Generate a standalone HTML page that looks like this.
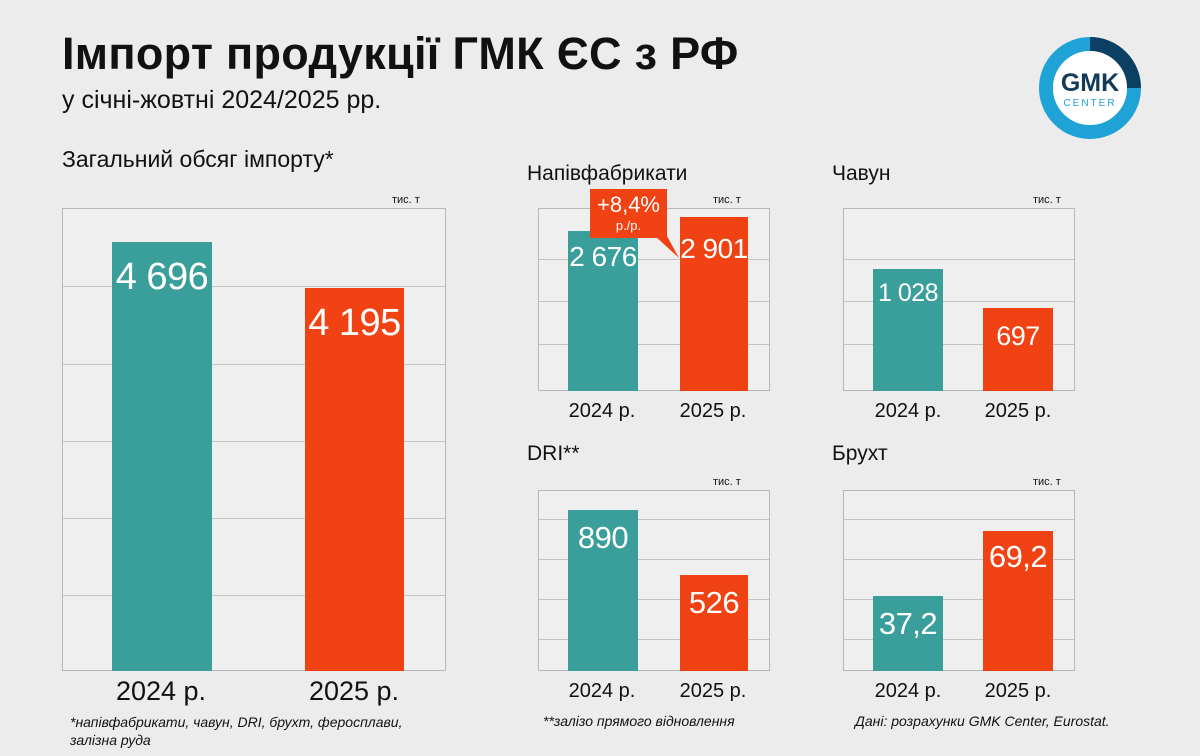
<!DOCTYPE html>
<html><head><meta charset="utf-8"><style>
body{margin:0;width:1200px;height:756px;overflow:hidden;background:#ececec;font-family:"Liberation Sans",sans-serif;color:#111;position:relative}
.a{position:absolute}
.fr{position:absolute;border:1.5px solid #b8b8b8;background:rgba(245,245,245,0.4);box-sizing:border-box}
.gl{position:absolute;left:0;right:0;height:1px;background:#c4c4c4}
.t{background:#3a9e9a}.o{background:#f04212}
.v{position:absolute;left:-10px;right:-10px;text-align:center;color:#fff;white-space:nowrap;letter-spacing:-0.5px}
.yr{position:absolute;font-size:21px;text-align:center;width:120px;white-space:nowrap}
.u{position:absolute;font-size:11px}
.h{position:absolute;font-size:21px;white-space:nowrap}
</style></head><body>
<div class="a" style="left:62px;top:28px;font-size:45px;font-weight:bold;letter-spacing:0.3px;white-space:nowrap">Імпорт продукції ГМК ЄС з РФ</div>
<div class="a" style="left:62px;top:86px;font-size:25px">у січні-жовтні 2024/2025 рр.</div>
<svg class="a" style="left:1036px;top:34px" width="108" height="108"><circle cx="54" cy="54" r="44" fill="none" stroke="#1fa3d6" stroke-width="14"/><path d="M54 10 A44 44 0 0 1 98 54" fill="none" stroke="#0b3f63" stroke-width="14"/><circle cx="54" cy="54" r="37" fill="#fff"/><text x="54" y="57" font-size="25" font-weight="bold" text-anchor="middle" fill="#123a5a" font-family="Liberation Sans">GMK</text><text x="54" y="72" font-size="10" text-anchor="middle" fill="#1fa3d6" letter-spacing="2" font-family="Liberation Sans">CENTER</text></svg>

<div class="h" style="left:62px;top:146px;font-size:23px">Загальний обсяг імпорту*</div>
<div class="u" style="left:392px;top:194px">тис. т</div>
<div class="fr" style="left:62px;top:208px;width:384px;height:463px">
<div class="gl" style="top:77px"></div><div class="gl" style="top:155px"></div><div class="gl" style="top:232px"></div><div class="gl" style="top:309px"></div><div class="gl" style="top:386px"></div>
<div class="a t" style="left:49px;top:33px;width:100px;height:429px"><div class="v" style="top:14px;font-size:38px">4 696</div></div>
<div class="a o" style="left:242px;top:79px;width:99px;height:383px"><div class="v" style="top:14px;font-size:38px">4 195</div></div>
</div>
<div class="yr" style="left:101px;top:676px;font-size:27px">2024 р.</div>
<div class="yr" style="left:294px;top:676px;font-size:27px">2025 р.</div>

<div class="h" style="left:527px;top:162px">Напівфабрикати</div>
<div class="u" style="left:713px;top:194px">тис. т</div>
<div class="fr" style="left:538px;top:208px;width:232px;height:183px">
<div class="gl" style="top:50px"></div><div class="gl" style="top:92px"></div><div class="gl" style="top:135px"></div>
<div class="a t" style="left:29px;top:22px;width:70px;height:160px"><div class="v" style="top:10px;font-size:28px">2 676</div></div>
<div class="a o" style="left:141px;top:8px;width:68px;height:174px"><div class="v" style="top:16px;font-size:28px">2 901</div></div>
</div>
<div class="a o" style="left:590px;top:189px;width:77px;height:49px;color:#fff;text-align:center"><div style="font-size:22px;margin-top:3px;white-space:nowrap">+8,4%</div><div style="font-size:13px">р./р.</div></div>
<svg class="a" style="left:655px;top:236px" width="30" height="30"><polygon points="0,0 12,0 24,22" fill="#f04212"/></svg>
<div class="yr" style="left:542px;top:400px;font-size:20px">2024 р.</div>
<div class="yr" style="left:653px;top:400px;font-size:20px">2025 р.</div>

<div class="h" style="left:832px;top:162px">Чавун</div>
<div class="u" style="left:1033px;top:194px">тис. т</div>
<div class="fr" style="left:843px;top:208px;width:232px;height:183px">
<div class="gl" style="top:50px"></div><div class="gl" style="top:92px"></div><div class="gl" style="top:135px"></div>
<div class="a t" style="left:29px;top:60px;width:70px;height:122px"><div class="v" style="top:10px;font-size:25px">1 028</div></div>
<div class="a o" style="left:139px;top:99px;width:70px;height:83px"><div class="v" style="top:13px;font-size:27px">697</div></div>
</div>
<div class="yr" style="left:848px;top:400px;font-size:20px">2024 р.</div>
<div class="yr" style="left:958px;top:400px;font-size:20px">2025 р.</div>

<div class="h" style="left:527px;top:442px">DRI**</div>
<div class="u" style="left:713px;top:476px">тис. т</div>
<div class="fr" style="left:538px;top:490px;width:232px;height:181px">
<div class="gl" style="top:28px"></div><div class="gl" style="top:68px"></div><div class="gl" style="top:108px"></div><div class="gl" style="top:148px"></div>
<div class="a t" style="left:29px;top:19px;width:70px;height:161px"><div class="v" style="top:10px;font-size:31px">890</div></div>
<div class="a o" style="left:141px;top:84px;width:68px;height:96px"><div class="v" style="top:10px;font-size:31px">526</div></div>
</div>
<div class="yr" style="left:542px;top:680px;font-size:20px">2024 р.</div>
<div class="yr" style="left:653px;top:680px;font-size:20px">2025 р.</div>

<div class="h" style="left:832px;top:442px">Брухт</div>
<div class="u" style="left:1033px;top:476px">тис. т</div>
<div class="fr" style="left:843px;top:490px;width:232px;height:181px">
<div class="gl" style="top:28px"></div><div class="gl" style="top:68px"></div><div class="gl" style="top:108px"></div><div class="gl" style="top:148px"></div>
<div class="a t" style="left:29px;top:105px;width:70px;height:75px"><div class="v" style="top:10px;font-size:31px">37,2</div></div>
<div class="a o" style="left:139px;top:40px;width:70px;height:140px"><div class="v" style="top:8px;font-size:31px">69,2</div></div>
</div>
<div class="yr" style="left:848px;top:680px;font-size:20px">2024 р.</div>
<div class="yr" style="left:958px;top:680px;font-size:20px">2025 р.</div>

<div class="a" style="left:70px;top:713px;font-size:14px;font-style:italic;line-height:18px">*напівфабрикати, чавун, DRI, брухт, феросплави,<br>залізна руда</div>
<div class="a" style="left:543px;top:713px;font-size:14px;font-style:italic;white-space:nowrap">**залізо прямого відновлення</div>
<div class="a" style="left:855px;top:713px;font-size:14px;font-style:italic;white-space:nowrap">Дані: розрахунки GMK Center, Eurostat.</div>
</body></html>
